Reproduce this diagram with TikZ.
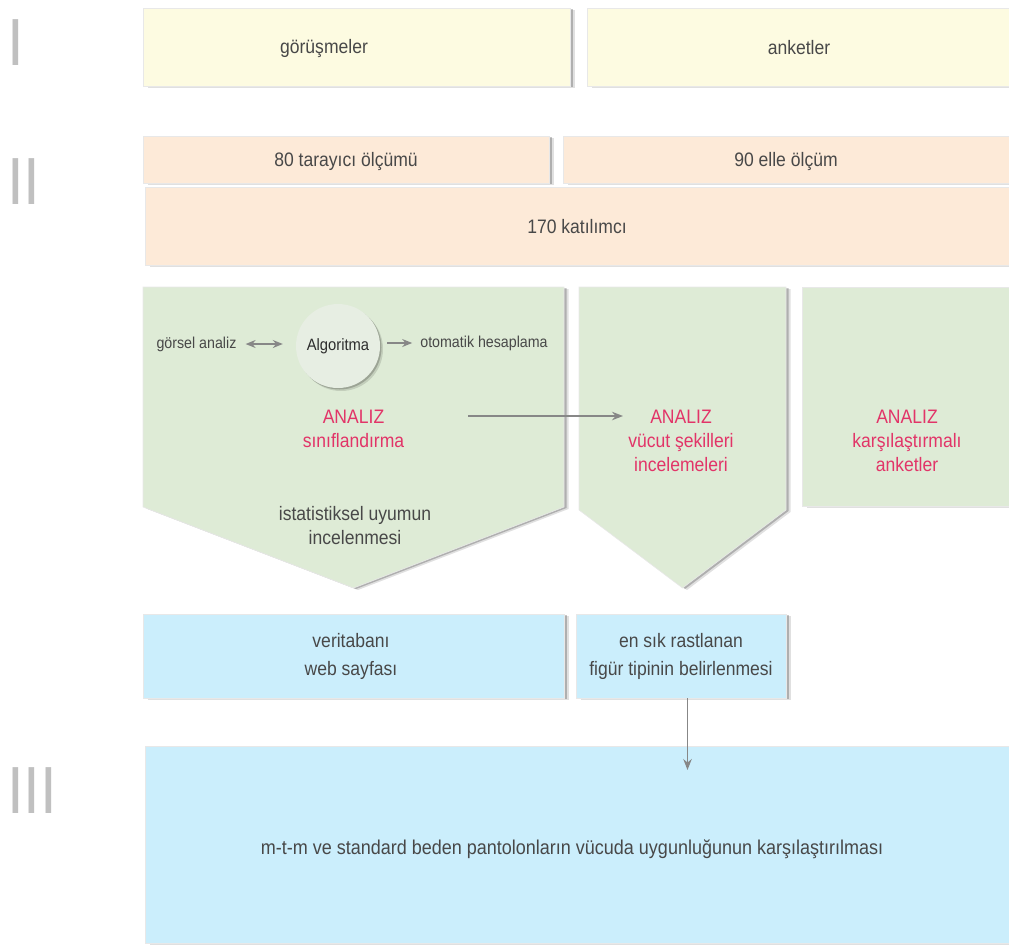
\documentclass[tikz,border=0pt]{standalone}
\usepackage{fontspec}
\setmainfont{Liberation Sans}[FakeStretch=0.9]
\usetikzlibrary{shadows,arrows.meta}

\definecolor{txt}{RGB}{72,72,72}
\definecolor{txtdark}{RGB}{45,45,45}
\definecolor{hot}{RGB}{226,52,104}
\definecolor{numc}{RGB}{192,192,192}
\definecolor{arr}{RGB}{135,135,135}
\definecolor{yel}{RGB}{253,251,225}
\definecolor{peach}{RGB}{253,234,216}
\definecolor{grn}{RGB}{222,235,214}
\definecolor{blu}{RGB}{203,238,252}
\definecolor{circ}{RGB}{231,238,227}

\begin{document}
\begin{tikzpicture}[x=1pt,y=-1pt,
  softshadow/.style={
    drop shadow={shadow xshift=4.5pt, shadow yshift=-2pt, opacity=0.12, fill=black},
    drop shadow={shadow xshift=2.5pt, shadow yshift=-1pt, opacity=0.22, fill=black}},
  panel/.style={rectangle, inner sep=0pt, draw=black!9, line width=0.6pt, softshadow},
  lbl/.style={text=txt, inner sep=2pt, align=center, font=\fontsize{19.5}{24}\selectfont},
  lblblue/.style={lbl, font=\fontsize{19.5}{28}\selectfont},
  small/.style={text=txt, inner sep=2pt, font=\fontsize{15.8}{18}\selectfont},
  hotlbl/.style={text=hot, inner sep=2pt, align=center, font=\fontsize{19.5}{24}\selectfont},
  numeral/.style={text=numc, inner sep=0pt, anchor=base west, font=\fontsize{66.7}{60}\selectfont},
  flow/.style={draw=arr, line width=1.4pt, -{Stealth[length=11pt,width=8.5pt]}},
  pair/.style={draw=arr, line width=1.4pt,
    {Stealth[length=10pt,width=8pt]}-{Stealth[length=10pt,width=8pt]}},
  single/.style={draw=arr, line width=1.4pt, -{Stealth[length=10pt,width=8pt]}},
]
\useasboundingbox (0,0) rectangle (1009,946);

% phase numerals
\node[numeral] (n1) at (7,65) {I};
\node[numeral] (n2) at (7,204) {II};
\node[numeral] (n3) at (7,813) {III};

% phase I: sources
\node[panel, fill=yel, minimum width=427pt, minimum height=78pt] (gorbox) at (356.5,47) {};
\node[lbl] (gor) at (324,48) {görüşmeler};
\node[panel, fill=yel, minimum width=425pt, minimum height=78pt] (ank) at (799.5,47) {};
\node[lbl] (anktxt) at (799,48) {anketler};

% phase II: measurements and participants
\node[panel, fill=peach, minimum width=406pt, minimum height=47pt] (tar) at (346,159.5) {};
\node[lbl] (tartxt) at (346,161) {80 tarayıcı ölçümü};
\node[panel, fill=peach, minimum width=449pt, minimum height=47pt] (elle) at (787.5,159.5) {};
\node[lbl] (elletxt) at (786,161) {90 elle ölçüm};
\node[panel, fill=peach, minimum width=867pt, minimum height=78pt] (kat) at (578.5,226) {};
\node[lbl] (kattxt) at (577,227) {170 katılımcı};

% analysis blocks
\path[fill=grn, draw=black!9, line width=0.6pt, softshadow]
  (143,287) -- (564,287) -- (564,507) -- (353.5,588) -- (143,507) -- cycle;
\path[fill=grn, draw=black!9, line width=0.6pt, softshadow]
  (579,287) -- (786,287) -- (786,510) -- (682.5,588) -- (579,510) -- cycle;
\node[panel, fill=grn, minimum width=212pt, minimum height=219pt] (kars) at (908,396.5) {};

% algorithm cluster
\node[circle, fill=circ, minimum size=84pt, inner sep=0pt,
  drop shadow={shadow xshift=3pt, shadow yshift=-3pt, opacity=0.12, fill=black},
  drop shadow={shadow xshift=1.5pt, shadow yshift=-1.5pt, opacity=0.2, fill=black},
  text=txtdark, font=\fontsize{16.4}{18}\selectfont] (algo) at (338,346) {Algoritma};
\node[small] (gorsel) at (196.5,344) {görsel analiz};
\node[small] (otom) at (484,343) {otomatik hesaplama};
\draw[pair, shorten <=7pt, shorten >=13pt] (gorsel.east) -- (gorsel.east -| algo.west);
\draw[single, shorten <=7pt, shorten >=6pt] (algo.east |- otom.west) -- (otom.west);

\node[hotlbl] (an1) at (353.5,429) {ANALIZ\\sınıflandırma};
\node[lbl] (ist) at (355,526) {istatistiksel uyumun\\incelenmesi};
\node[hotlbl] (an2) at (681,440.5) {ANALIZ\\vücut şekilleri\\incelemeleri};
\node[hotlbl] (an3) at (907,440.5) {ANALIZ\\karşılaştırmalı\\anketler};

\coordinate (cstart) at (468,416);
\coordinate (cend) at (623,416);
\draw[flow] (cstart) -- (cend);

% results
\node[panel, fill=blu, minimum width=421pt, minimum height=84pt] (veri) at (354,656) {};
\node[lblblue] (veritxt) at (351,656) {veritabanı\\web sayfası};
\node[panel, fill=blu, minimum width=210pt, minimum height=84pt] (fig) at (681,656) {};
\node[lblblue] (figtxt) at (681,656) {en sık rastlanan\\figür tipinin belirlenmesi};

% phase III: comparison
\node[panel, fill=blu, minimum width=867pt, minimum height=197pt] (comp) at (578.5,844.5) {};
\node[lbl, font=\fontsize{20}{22}\selectfont] (comptxt) at (572,849)
  {m-t-m ve standard beden pantolonların vücuda uygunluğunun karşılaştırılması};

\coordinate (tipIII) at (687.5,770);
\draw[flow] (fig.south -| tipIII) -- (tipIII);
\end{tikzpicture}
\end{document}
